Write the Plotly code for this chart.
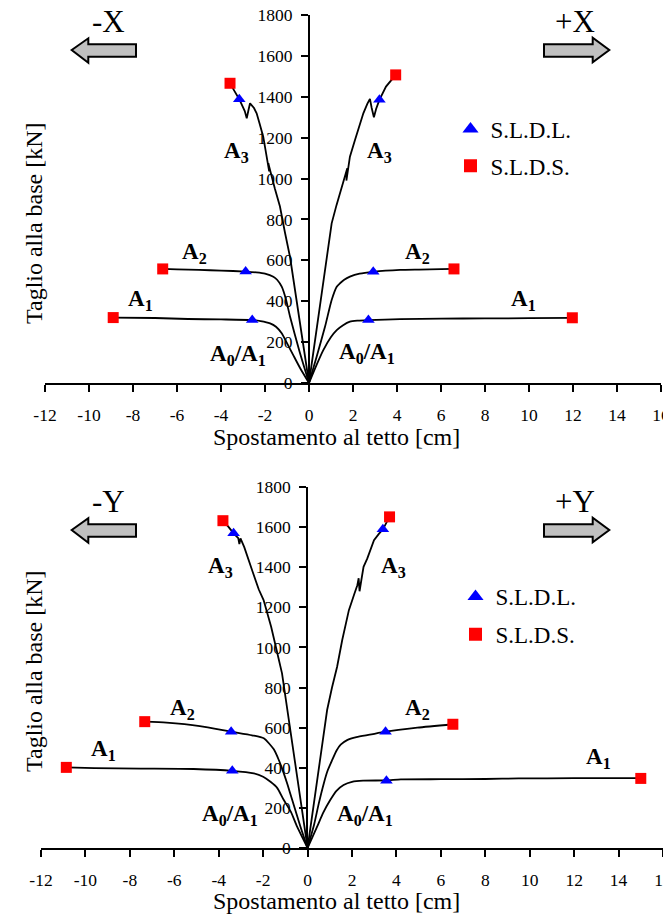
import plotly.graph_objects as go

W, H = 671, 918
OFF = 8  # page offset of the plot div inside the browser window
FONT = "Liberation Serif"

# ---------------- data: top chart (X direction) ----------------
tx_A3_neg = [0, -0.3, -0.6, -0.86, -1.1, -1.32, -1.55, -1.72, -1.85, -1.81, -1.95, -2.08, -2.25, -2.38, -2.5, -2.62, -2.68, -2.75, -2.83, -2.92, -3.05, -3.17, -3.4, -3.59]
ty_A3_neg = [0, 220, 430, 615, 740, 863, 950, 1015, 1075, 1035, 1130, 1205, 1270, 1319, 1345, 1362, 1368, 1335, 1295, 1330, 1365, 1388, 1430, 1466]
tx_A3_pos = [0, 0.3, 0.55, 0.8, 1.03, 1.25, 1.41, 1.6, 1.74, 1.7, 1.86, 2.09, 2.3, 2.47, 2.65, 2.77, 2.85, 2.95, 3.05, 3.2, 3.5, 3.94]
ty_A3_pos = [0, 230, 420, 615, 781, 870, 928, 990, 1050, 990, 1107, 1189, 1265, 1319, 1365, 1390, 1345, 1300, 1340, 1385, 1450, 1507]
tx_A2_neg = [0, -0.45, -0.86, -1.05, -1.24, -1.45, -1.62, -2.0, -2.4, -2.88, -4.0, -5.0, -6.0, -6.65]
ty_A2_neg = [0, 161, 324, 410, 471, 505, 520, 535, 541, 545, 550, 553, 556, 558]
tx_A2_pos = [0, 0.35, 0.73, 1.03, 1.26, 1.41, 1.6, 1.86, 2.3, 2.92, 4.14, 5.0, 6.0, 6.59]
ty_A2_pos = [0, 130, 276, 406, 471, 488, 505, 520, 535, 544, 553, 555, 557, 558]
tx_A1_neg = [0, -0.4, -0.71, -1.0, -1.24, -1.5, -1.77, -2.2, -2.6, -4.0, -5.5, -7.0, -8.9]
ty_A1_neg = [0, 72, 135, 195, 243, 275, 292, 303, 308, 311, 313, 318, 320]
tx_A1_pos = [0, 0.35, 0.65, 1.0, 1.26, 1.55, 1.86, 2.2, 2.7, 4.14, 6.0, 8.0, 10.0, 11.97]
ty_A1_pos = [0, 90, 161, 225, 259, 283, 300, 305, 308, 312, 315, 316, 317, 319]

t_sldl_x = [-3.17, 3.2, -2.88, 2.92, -2.58, 2.7]
t_sldl_y = [1388, 1385, 545, 544, 308, 308]
t_slds_x = [-3.59, 3.94, -6.65, 6.59, -8.9, 11.97]
t_slds_y = [1466, 1507, 558, 558, 320, 319]

# ---------------- data: bottom chart (Y direction) ----------------
bx_A3_neg = [0, -0.3, -0.6, -0.9, -1.15, -1.4, -1.64, -1.98, -2.2, -2.45, -2.65, -2.85, -3.02, -3.07, -3.12, -3.33, -3.55, -3.81]
by_A3_neg = [0, 230, 470, 688, 871, 990, 1103, 1236, 1290, 1370, 1436, 1500, 1544, 1515, 1545, 1569, 1600, 1632]
bx_A3_pos = [0, 0.3, 0.6, 0.88, 1.1, 1.33, 1.56, 1.86, 2.1, 2.24, 2.3, 2.34, 2.42, 2.52, 2.69, 2.8, 2.99, 3.2, 3.39, 3.69]
by_A3_pos = [0, 230, 470, 688, 800, 904, 1037, 1186, 1265, 1310, 1345, 1280, 1335, 1402, 1444, 1480, 1535, 1565, 1589, 1651]
bx_A2_neg = [0, -0.32, -0.69, -0.9, -1.07, -1.3, -1.52, -1.97, -2.5, -3.44, -4.85, -6.35, -7.33]
by_A2_neg = [0, 106, 239, 315, 372, 440, 492, 547, 562, 580, 608, 625, 630]
bx_A2_pos = [0, 0.3, 0.5, 0.73, 0.9, 1.11, 1.3, 1.49, 1.78, 2.2, 2.8, 3.51, 4.94, 6.54]
by_A2_pos = [0, 120, 220, 322, 385, 439, 485, 515, 538, 553, 565, 580, 600, 617]
bx_A1_neg = [0, -0.47, -0.75, -1.07, -1.37, -1.67, -2.0, -2.42, -3.39, -5.13, -7.5, -9.6, -10.86]
by_A1_neg = [0, 106, 180, 239, 300, 330, 355, 372, 385, 394, 396, 398, 402]
bx_A1_pos = [0, 0.43, 0.7, 1.02, 1.3, 1.62, 2.0, 2.5, 3.55, 4.2, 6.0, 8.0, 9.5, 12.0, 15.0]
by_A1_pos = [0, 106, 175, 239, 285, 314, 330, 336, 337, 342, 343, 344, 347, 348, 348]

b_sldl_x = [-3.33, 3.39, -3.44, 3.51, -3.39, 3.55]
b_sldl_y = [1569, 1589, 580, 580, 385, 335]
b_slds_x = [-3.81, 3.69, -7.33, 6.54, -10.86, 15.0]
b_slds_y = [1632, 1651, 630, 617, 402, 347]

x_ticks = list(range(-12, 17, 2))
x_ticktext = [str(v) for v in x_ticks]
y_ticks = list(range(0, 1801, 200))
legend_names = ["S.L.D.L.", "S.L.D.S."]

# curve labels (text, x, y) in data units
top_labels = [("A<sub>3</sub>", -3.29, 1132), ("A<sub>3</sub>", 3.2, 1132),
              ("A<sub>2</sub>", -5.21, 635), ("A<sub>2</sub>", 4.92, 635),
              ("A<sub>1</sub>", -7.68, 406), ("A<sub>1</sub>", 9.77, 406),
              ("A<sub>0</sub>/A<sub>1</sub>", -3.21, 137), ("A<sub>0</sub>/A<sub>1</sub>", 2.62, 145)]
bot_labels = [("A<sub>3</sub>", -3.93, 1399), ("A<sub>3</sub>", 3.85, 1399),
              ("A<sub>2</sub>", -5.61, 691), ("A<sub>2</sub>", 4.95, 691),
              ("A<sub>1</sub>", -9.19, 489), ("A<sub>1</sub>", 13.1, 447),
              ("A<sub>0</sub>/A<sub>1</sub>", -3.48, 165), ("A<sub>0</sub>/A<sub>1</sub>", 2.6, 165)]


def PX(p):
    return (p - OFF) / W


def PY(p):
    return 1 - (p - OFF) / H


fig = go.Figure()

curve_sets = [
    ("x", "y", [(tx_A3_neg, ty_A3_neg, "linear"), (tx_A3_pos, ty_A3_pos, "linear"),
                (tx_A2_neg, ty_A2_neg, "spline"), (tx_A2_pos, ty_A2_pos, "spline"),
                (tx_A1_neg, ty_A1_neg, "spline"), (tx_A1_pos, ty_A1_pos, "spline")]),
    ("x2", "y2", [(bx_A3_neg, by_A3_neg, "linear"), (bx_A3_pos, by_A3_pos, "linear"),
                  (bx_A2_neg, by_A2_neg, "spline"), (bx_A2_pos, by_A2_pos, "spline"),
                  (bx_A1_neg, by_A1_neg, "spline"), (bx_A1_pos, by_A1_pos, "spline")]),
]
for xa, ya, curves in curve_sets:
    for cx, cy, shp in curves:
        fig.add_trace(go.Scatter(x=cx, y=cy, mode="lines", xaxis=xa, yaxis=ya,
                                 line=dict(color="black", width=1.8, shape=shp, smoothing=0.6),
                                 showlegend=False, hoverinfo="skip"))

for xa, ya, sx, sy, qx, qy, leg in [("x", "y", t_sldl_x, t_sldl_y, t_slds_x, t_slds_y, "legend"),
                                     ("x2", "y2", b_sldl_x, b_sldl_y, b_slds_x, b_slds_y, "legend2")]:
    fig.add_trace(go.Scatter(x=sx, y=sy, mode="markers", xaxis=xa, yaxis=ya, showlegend=False,
                             marker=dict(symbol="triangle-up", size=11, color="#0000FF"), cliponaxis=False))
    fig.add_trace(go.Scatter(x=qx, y=qy, mode="markers", xaxis=xa, yaxis=ya, showlegend=False,
                             marker=dict(symbol="square", size=11, color="#FF0000"), cliponaxis=False))
    # legend entries
    fig.add_trace(go.Scatter(x=[None], y=[None], mode="markers", xaxis=xa, yaxis=ya, name=legend_names[0],
                             legend=leg, legendgroup=leg + "a",
                             marker=dict(symbol="triangle-up", size=14, color="#0000FF")))
    fig.add_trace(go.Scatter(x=[None], y=[None], mode="markers", xaxis=xa, yaxis=ya, name=legend_names[1],
                             legend=leg, legendgroup=leg + "b",
                             marker=dict(symbol="square", size=13, color="#FF0000")))

axis_common = dict(showline=True, linecolor="black", linewidth=2, ticks="outside", ticklen=7,
                   tickwidth=2, tickcolor="black", showgrid=False, zeroline=False, automargin=False,
                   ticklabeloverflow="allow",
                   tickfont=dict(family=FONT, size=17.5, color="black"))

fig.update_layout(
    width=W, height=H, margin=dict(l=0, r=0, t=0, b=0, autoexpand=False),
    paper_bgcolor="white", plot_bgcolor="white",
    font=dict(family=FONT, color="black"),
    xaxis=dict(domain=[PX(45), PX(661)], range=[-12, 16], tickvals=x_ticks, ticktext=x_ticktext,
               anchor="y", ticklabelstandoff=8, **axis_common),
    yaxis=dict(domain=[PY(383), PY(15)], range=[0, 1800], tickvals=y_ticks, anchor="free",
               position=PX(309), ticklabelstandoff=5, **axis_common),
    xaxis2=dict(domain=[PX(41), PX(663)], range=[-12, 16], tickvals=x_ticks, ticktext=x_ticktext,
                anchor="y2", ticklabelstandoff=8, **axis_common),
    yaxis2=dict(domain=[PY(848), PY(487)], range=[0, 1800], tickvals=y_ticks, anchor="free",
                position=PX(307.3), ticklabelstandoff=5, **axis_common),
    legend=dict(x=PX(450.5), y=PY(107.5), xanchor="left", yanchor="top", bgcolor="rgba(0,0,0,0)",
                font=dict(family=FONT, size=23, color="black"), traceorder="grouped", tracegroupgap=4),
    legend2=dict(x=PX(455.5), y=PY(575), xanchor="left", yanchor="top", bgcolor="rgba(0,0,0,0)",
                 font=dict(family=FONT, size=23, color="black"), traceorder="grouped", tracegroupgap=5),
)

ann = []
for lab in top_labels:
    ann.append(dict(text="<b>" + lab[0] + "</b>", x=lab[1], y=lab[2], xref="x", yref="y",
                    xanchor="center", yanchor="middle", showarrow=False,
                    font=dict(family=FONT, size=23, color="black")))
for lab in bot_labels:
    ann.append(dict(text="<b>" + lab[0] + "</b>", x=lab[1], y=lab[2], xref="x2", yref="y2",
                    xanchor="center", yanchor="middle", showarrow=False,
                    font=dict(family=FONT, size=23, color="black")))

for dy, m, p in [(0, "-X", "+X"), (480, "-Y", "+Y")]:
    for txt, xc in ((m, 108), (p, 575)):
        ann.append(dict(text=txt, x=PX(xc), y=PY(21 + dy), xref="paper", yref="paper", showarrow=False,
                        xanchor="center", yanchor="middle", font=dict(family=FONT, size=31, color="black")))

for ty, yc in [(437, 223), (901, 671)]:
    ann.append(dict(text="Spostamento al tetto [cm]", x=PX(336), y=PY(ty), xref="paper", yref="paper",
                    xanchor="center", yanchor="middle", showarrow=False,
                    font=dict(family=FONT, size=24, color="black")))
    ann.append(dict(text="Taglio alla base [kN]", x=PX(34), y=PY(yc), xref="paper", yref="paper",
                    xanchor="center", yanchor="middle", showarrow=False, textangle=-90,
                    font=dict(family=FONT, size=24, color="black")))

fig.update_layout(annotations=ann)


def arrow_path(pts):
    return "M " + " L ".join(f"{PX(a):.5f},{PY(b):.5f}" for a, b in pts) + " Z"


shapes = []
for dy in (0, 480):
    left = [(71.7, 50 + dy), (88.3, 38.3 + dy), (88.3, 44.3 + dy), (136, 44.3 + dy),
            (136, 56.7 + dy), (88.3, 56.7 + dy), (88.3, 62.7 + dy)]
    right = [(544, 44.3 + dy), (592.7, 44.3 + dy), (592.7, 37.7 + dy), (609.3, 50 + dy),
             (592.7, 62.3 + dy), (592.7, 56.7 + dy), (544, 56.7 + dy)]
    for pts in (left, right):
        shapes.append(dict(type="path", path=arrow_path(pts), xref="paper", yref="paper",
                           fillcolor="#C0C0C0", line=dict(color="black", width=2)))
fig.update_layout(shapes=shapes)

fig.write_html("out.html")
